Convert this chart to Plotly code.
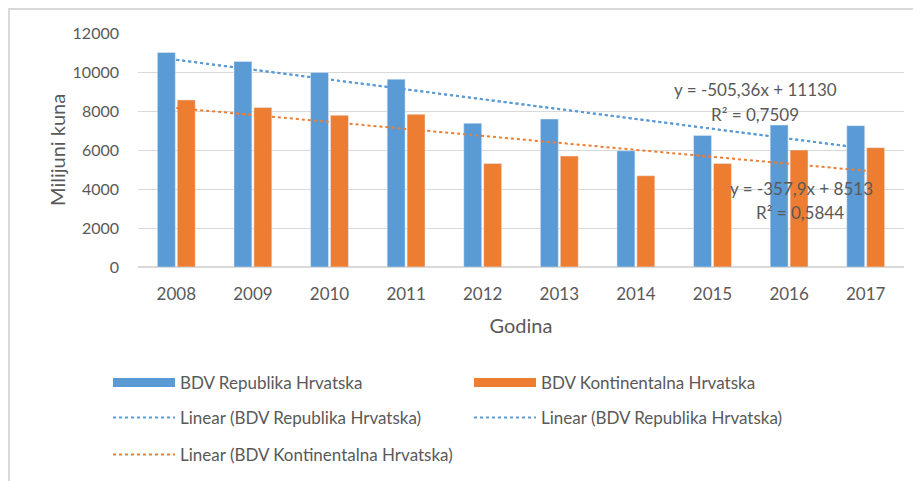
import numpy as np
import plotly.graph_objects as go

years = ["2008", "2009", "2010", "2011", "2012", "2013", "2014", "2015", "2016", "2017"]
bdv_rh = [11000, 10540, 9970, 9630, 7370, 7590, 5960, 6750, 7280, 7250]
bdv_kh = [8570, 8175, 7780, 7830, 5310, 5690, 4680, 5310, 6000, 6120]
y_ticks = [0, 2000, 4000, 6000, 8000, 10000, 12000]

# trend coefficients as printed on chart
rh_slope, rh_intercept = -505.36, 11130
kh_slope, kh_intercept = -357.9, 8513

name_rh = "BDV Republika Hrvatska"
name_kh = "BDV Kontinentalna Hrvatska"

blue = "#5B9BD5"
orange = "#ED7D31"
grey = "#595959"
gridc = "#d9d9d9"
font = "Lato"

xi = np.arange(1, len(years) + 1)
trend_rh = rh_slope * xi + rh_intercept
trend_kh = kh_slope * xi + kh_intercept

# figure is offset by the page's 8px body margin
W, H = 913, 473
L, R, T, B = 130, 17, 25, 214
pw, ph = W - L - R, H - T - B


def px(xf):
    return (xf - L) / pw


def py(yf):
    return (H - B - yf) / ph


def cx(xf):
    return xf / W


def cy(yf):
    return 1 - yf / H


fig = go.Figure()
fig.add_trace(go.Bar(x=years, y=bdv_rh, name=name_rh, marker_color=blue,
                     legendgroup="rh", showlegend=False))
fig.add_trace(go.Bar(x=years, y=bdv_kh, name=name_kh, marker_color=orange,
                     legendgroup="kh", showlegend=False))
# legend swatches drawn as thick bars, like the original
fig.add_trace(go.Scatter(x=[None], y=[None], mode="lines", name=name_rh, legendgroup="rh",
                         line=dict(color=blue, width=9), legend="legend"))
fig.add_trace(go.Scatter(x=[None], y=[None], mode="lines", name=name_kh, legendgroup="kh",
                         line=dict(color=orange, width=9), legend="legend"))
fig.add_trace(go.Scatter(x=years, y=trend_rh, mode="lines", name="Linear (" + name_rh + ")",
                         line=dict(color=blue, dash="dot", width=2), legend="legend2"))
fig.add_trace(go.Scatter(x=years, y=trend_rh, mode="lines", name="Linear (" + name_rh + ")",
                         line=dict(color=blue, dash="dot", width=2), legend="legend2"))
fig.add_trace(go.Scatter(x=years, y=trend_kh, mode="lines", name="Linear (" + name_kh + ")",
                         line=dict(color=orange, dash="dot", width=2), legend="legend3"))

fig.add_shape(type="line", xref="paper", yref="paper", x0=px(0), x1=px(W), y0=py(1), y1=py(1),
              line=dict(color=gridc, width=2))
fig.add_shape(type="line", xref="paper", yref="paper", x0=px(1), x1=px(1), y0=py(0), y1=py(H),
              line=dict(color=gridc, width=2))

ann_font = dict(family=font, size=17, color=grey)
ann_pos = [
    ("y = -505,36x + 11130", 747, 81),
    ("R² = 0,7509", 747, 106),
    ("y = -357,9x + 8513", 793, 180),
    ("R² = 0,5844", 792, 204),
]
for txt, ax_, ay_ in ann_pos:
    fig.add_annotation(xref="paper", yref="paper", x=px(ax_), y=py(ay_),
                       xanchor="center", yanchor="middle",
                       text=txt, showarrow=False, font=ann_font)

# y-axis title
fig.add_annotation(xref="paper", yref="paper", x=px(49), y=py(142),
                   xanchor="center", yanchor="middle", textangle=-90,
                   text="Milijuni kuna", showarrow=False,
                   font=dict(family=font, size=20, color=grey))

leg_common = dict(orientation="h", xref="container", yref="container",
                  xanchor="left", yanchor="middle",
                  entrywidth=284, entrywidthmode="pixels", itemwidth=62,
                  font=dict(family=font, size=17, color=grey),
                  bgcolor="rgba(0,0,0,0)", traceorder="normal")

fig.update_layout(
    width=W, height=H,
    margin=dict(l=L, r=R, t=T, b=B, autoexpand=False),
    paper_bgcolor="white", plot_bgcolor="white",
    font=dict(family=font, size=17, color=grey),
    barmode="group", bargap=0.48, bargroupgap=0.1,
    showlegend=True,
    legend=dict(x=cx(100), y=cy(375), **leg_common),
    legend2=dict(x=cx(100), y=cy(410), **leg_common),
    legend3=dict(x=cx(100), y=cy(447), **leg_common),
    xaxis=dict(title=dict(text="Godina", font=dict(size=20, color=grey), standoff=15),
               showgrid=False, ticks="", tickfont=dict(size=17, color=grey),
               ticklabelstandoff=12,
               showline=True, linecolor=gridc, automargin=False),
    yaxis=dict(range=[0, 12000], tickvals=y_ticks, tickformat="d",
               showgrid=True, gridcolor=gridc, zeroline=True, zerolinecolor=gridc,
               tickfont=dict(size=16, color=grey), ticks="", ticklabelstandoff=18,
               automargin=False),
)

fig.write_html("out.html")
